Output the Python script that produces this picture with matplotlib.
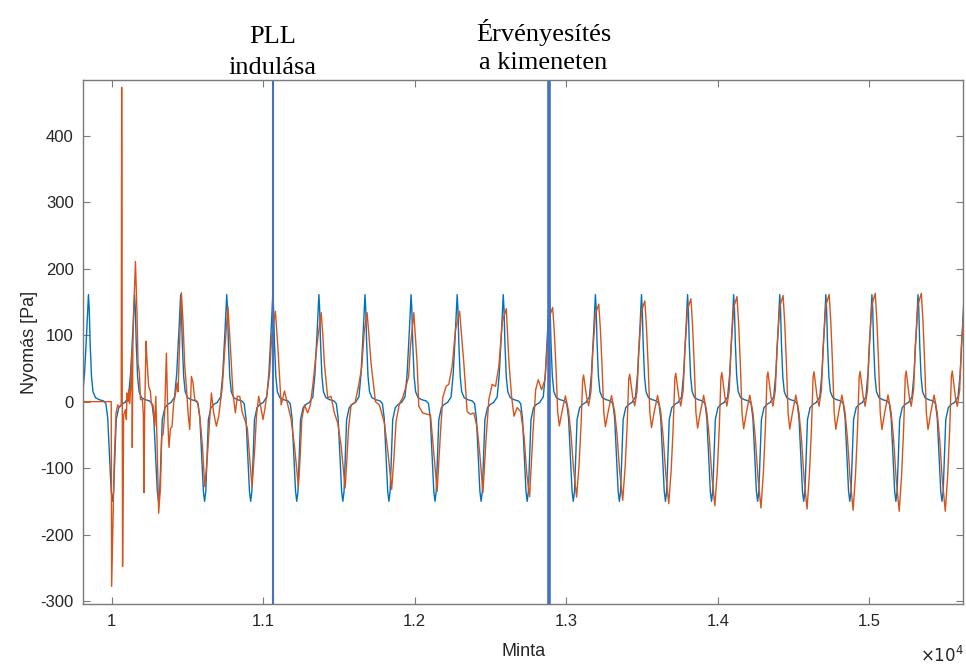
import numpy as np
import matplotlib
matplotlib.use('Agg')
import matplotlib.pyplot as plt

# axis setup
x_ticks = [10000, 11000, 12000, 13000, 14000, 15000]
x_ticklabels = ['1', '1.1', '1.2', '1.3', '1.4', '1.5']
y_ticks = [-300, -200, -100, 0, 100, 200, 300, 400]
x_lim = (9815, 15620)
y_lim = (-304.5, 484)

# reference (blue): one cycle, repeated every period
period = 304
blue_first_peak = 9848
n_cycles = 20
blue_off = [-60, -40, -26, -11, 0, 5, 11, 20, 30, 46, 70, 100, 115, 127, 139,
            150, 158, 166, 174, 183, 200, 220, 243]
blue_val = [0, 7, 42, 108, 161, 140, 88, 38, 15, 6, 3, 1, -3, -25, -82,
            -135, -150, -135, -82, -27, -9, -4, -1]

# PLL output (orange): start-up transient, absolute sample positions
pll_start_x = [9815, 9998, 10001, 10008, 10018, 10030, 10041, 10054, 10064, 10067,
               10073, 10080, 10092, 10098, 10102, 10109, 10113, 10120, 10125, 10135,
               10137, 10141, 10146, 10158, 10168, 10175, 10184, 10191, 10204, 10210,
               10214, 10219, 10228, 10234, 10245, 10257, 10263, 10274, 10285, 10292,
               10300, 10311, 10323, 10331, 10340, 10351, 10362, 10373, 10379, 10389,
               10399, 10410, 10423, 10432, 10439, 10450, 10461, 10472, 10483, 10494,
               10505, 10516, 10527, 10538, 10549, 10567, 10582, 10600, 10615, 10630,
               10648, 10659, 10674, 10692, 10707, 10720, 10731, 10747, 10768, 10784,
               10801, 10817, 10830, 10846, 10863, 10879, 10896, 10912, 10927, 10945,
               10956, 10971, 10984, 10999, 11011, 11026, 11043, 11057]
pll_start_y = [0, 0, -278, -200, -90, -17, -5, -8, -5, 473,
               -248, -20, -12, -27, 13, 0, 18, -3, 15, 78,
               -69, 83, 134, 211, 134, 58, 43, 3, 3, -20,
               -137, -10, 91, 63, 23, 15, -4, -5, -37, 8,
               -57, -168, -128, -52, -50, -17, 73, -37, -69, -40,
               -38, -2, 13, 28, 15, 93, 164, 119, 53, 23,
               -17, -42, 38, 28, 3, 0, -22, -67, -128, -90,
               -27, 13, -17, -37, -22, 3, 23, 78, 143, 83,
               13, -17, 8, 8, -17, -27, -40, -87, -128, -70,
               -22, 8, -7, -27, -12, 13, 43, 100]

# PLL output, cycles 4..9: offsets from the blue peak of each cycle
pll_mid_off = [
    [17, 34, 55, 77, 98, 121, 143, 169, 180, 191, 209, 230, 248, 268, 290],
    [15, 26, 36, 58, 80, 102, 124, 147, 173, 185, 195, 212, 239, 261, 282, 300],
    [14, 26, 40, 69, 95, 128, 151, 176, 191, 205, 227, 249, 271, 288, 300],
    [18, 40, 51, 77, 106, 128, 150, 172, 194, 209, 231, 249, 271, 293],
    [16, 44, 66, 88, 110, 132, 150, 170, 191, 209, 231, 253, 275, 298],
    [20, 38, 55, 71, 92, 115, 137, 156, 174, 196, 214, 231, 253, 275, 290],
]
pll_mid_val = [
    [136, 80, -5, 16, -4, -27, -67, -128, -85, -27, -5, -17, -5, 33, 83],
    [134, 100, 58, 6, 8, -17, -32, -67, -130, -85, -42, -5, -1, 23, 51, 108],
    [134, 100, 58, 0, -5, -32, -75, -132, -85, -30, -3, 6, 23, 38, 83],
    [134, 58, -7, -17, -19, -20, -77, -135, -47, 6, 23, 26, 53, 108],
    [136, 58, -15, -19, -17, -39, -80, -137, -55, 3, 26, 23, 53, 120],
    [140, 58, 8, -22, -9, -15, -52, -110, -143, -47, 18, 33, 18, 33, 83],
]

# PLL output, locked cycles 10..19: one cycle shape and its size per cycle
pll_late_off = [0, 22, 33, 44, 55, 66, 84, 106, 127, 143, 160, 180, 196, 209,
                220, 226, 246, 259, 275, 286, 297]
pll_late_val = [146, 163, 120, 58, -17, -42, -17, 10, -17, -57, -117, -165, -110, -42,
                38, 46, 8, -7, 18, 83, 123]
pll_late_scale = [0.87, 0.9, 0.93, 0.95, 0.97, 0.98, 0.99, 1.0, 1.0, 1.0]

# markers added on top
pll_line_x = 11064
valid_line_x = 12886
pll_text = 'PLL\nindulása'
valid_text = 'Érvényesítés\na kimeneten'


def build_blue():
	bx, by = [], []
	for k in range(n_cycles):
		peak = blue_first_peak + k * period
		bx += [peak + o for o in blue_off]
		by += blue_val
	return np.array(bx), np.array(by)


def build_pll():
	ox, oy = list(pll_start_x), list(pll_start_y)
	for i, (offs, vals) in enumerate(zip(pll_mid_off, pll_mid_val)):
		peak = blue_first_peak + (4 + i) * period
		ox += [peak + o for o in offs]
		oy += vals
	for i, s in enumerate(pll_late_scale):
		peak = blue_first_peak + (10 + i) * period
		ox += [peak + o for o in pll_late_off]
		oy += [s * v for v in pll_late_val]
	return np.array(ox), np.array(oy)


bx, by = build_blue()
ox, oy = build_pll()

plt.rcParams['font.family'] = ['Liberation Sans', 'DejaVu Sans']
plt.rcParams['axes.unicode_minus'] = False
fig = plt.figure(figsize=(9.66, 6.64), dpi=100)
ax = fig.add_axes([0.0864, 0.0904, 0.9110, 0.7891])

ax.plot(bx, by, color='#0072BD', lw=1.0)
ax.plot(ox, oy, color='#D95319', lw=1.0)
ax.axvline(pll_line_x, color='#4472C4', lw=1.5)
ax.axvline(valid_line_x, color='#4472C4', lw=2.6)

ax.set_xlim(*x_lim)
ax.set_ylim(*y_lim)
ax.set_xticks(x_ticks)
ax.set_xticklabels(x_ticklabels)
ax.set_yticks(y_ticks)
ax.tick_params(direction='in', length=5, width=0.8, colors='#7a7a7a',
               labelcolor='#262626', labelsize=12, top=True, right=True, pad=7)
for sp in ax.spines.values():
	sp.set_color('#7a7a7a')
	sp.set_linewidth(1.0)

ax.set_xlabel('Minta', fontsize=13, color='#262626', labelpad=10)
ax.set_ylabel('Nyomás [Pa]', fontsize=13, color='#262626', labelpad=2)
ax.text(1.0, -0.098, r'$\times10^{4}$', transform=ax.transAxes, ha='right', va='center',
        fontsize=12, color='#262626')

# labels above the plot, placed at the marker lines
serif = ['Liberation Serif', 'DejaVu Serif']
ax.annotate(pll_text, xy=(pll_line_x, 1.0), xycoords=('data', 'axes fraction'),
            xytext=(0, 1), textcoords='offset points', ha='center', va='bottom',
            fontsize=19, family=serif, linespacing=1.5)
ax.annotate(valid_text, xy=(valid_line_x, 1.0), xycoords=('data', 'axes fraction'),
            xytext=(-4, 4), textcoords='offset points', ha='center', va='bottom',
            fontsize=19, family=serif, linespacing=1.4)

fig.savefig('out.png', dpi=100)
